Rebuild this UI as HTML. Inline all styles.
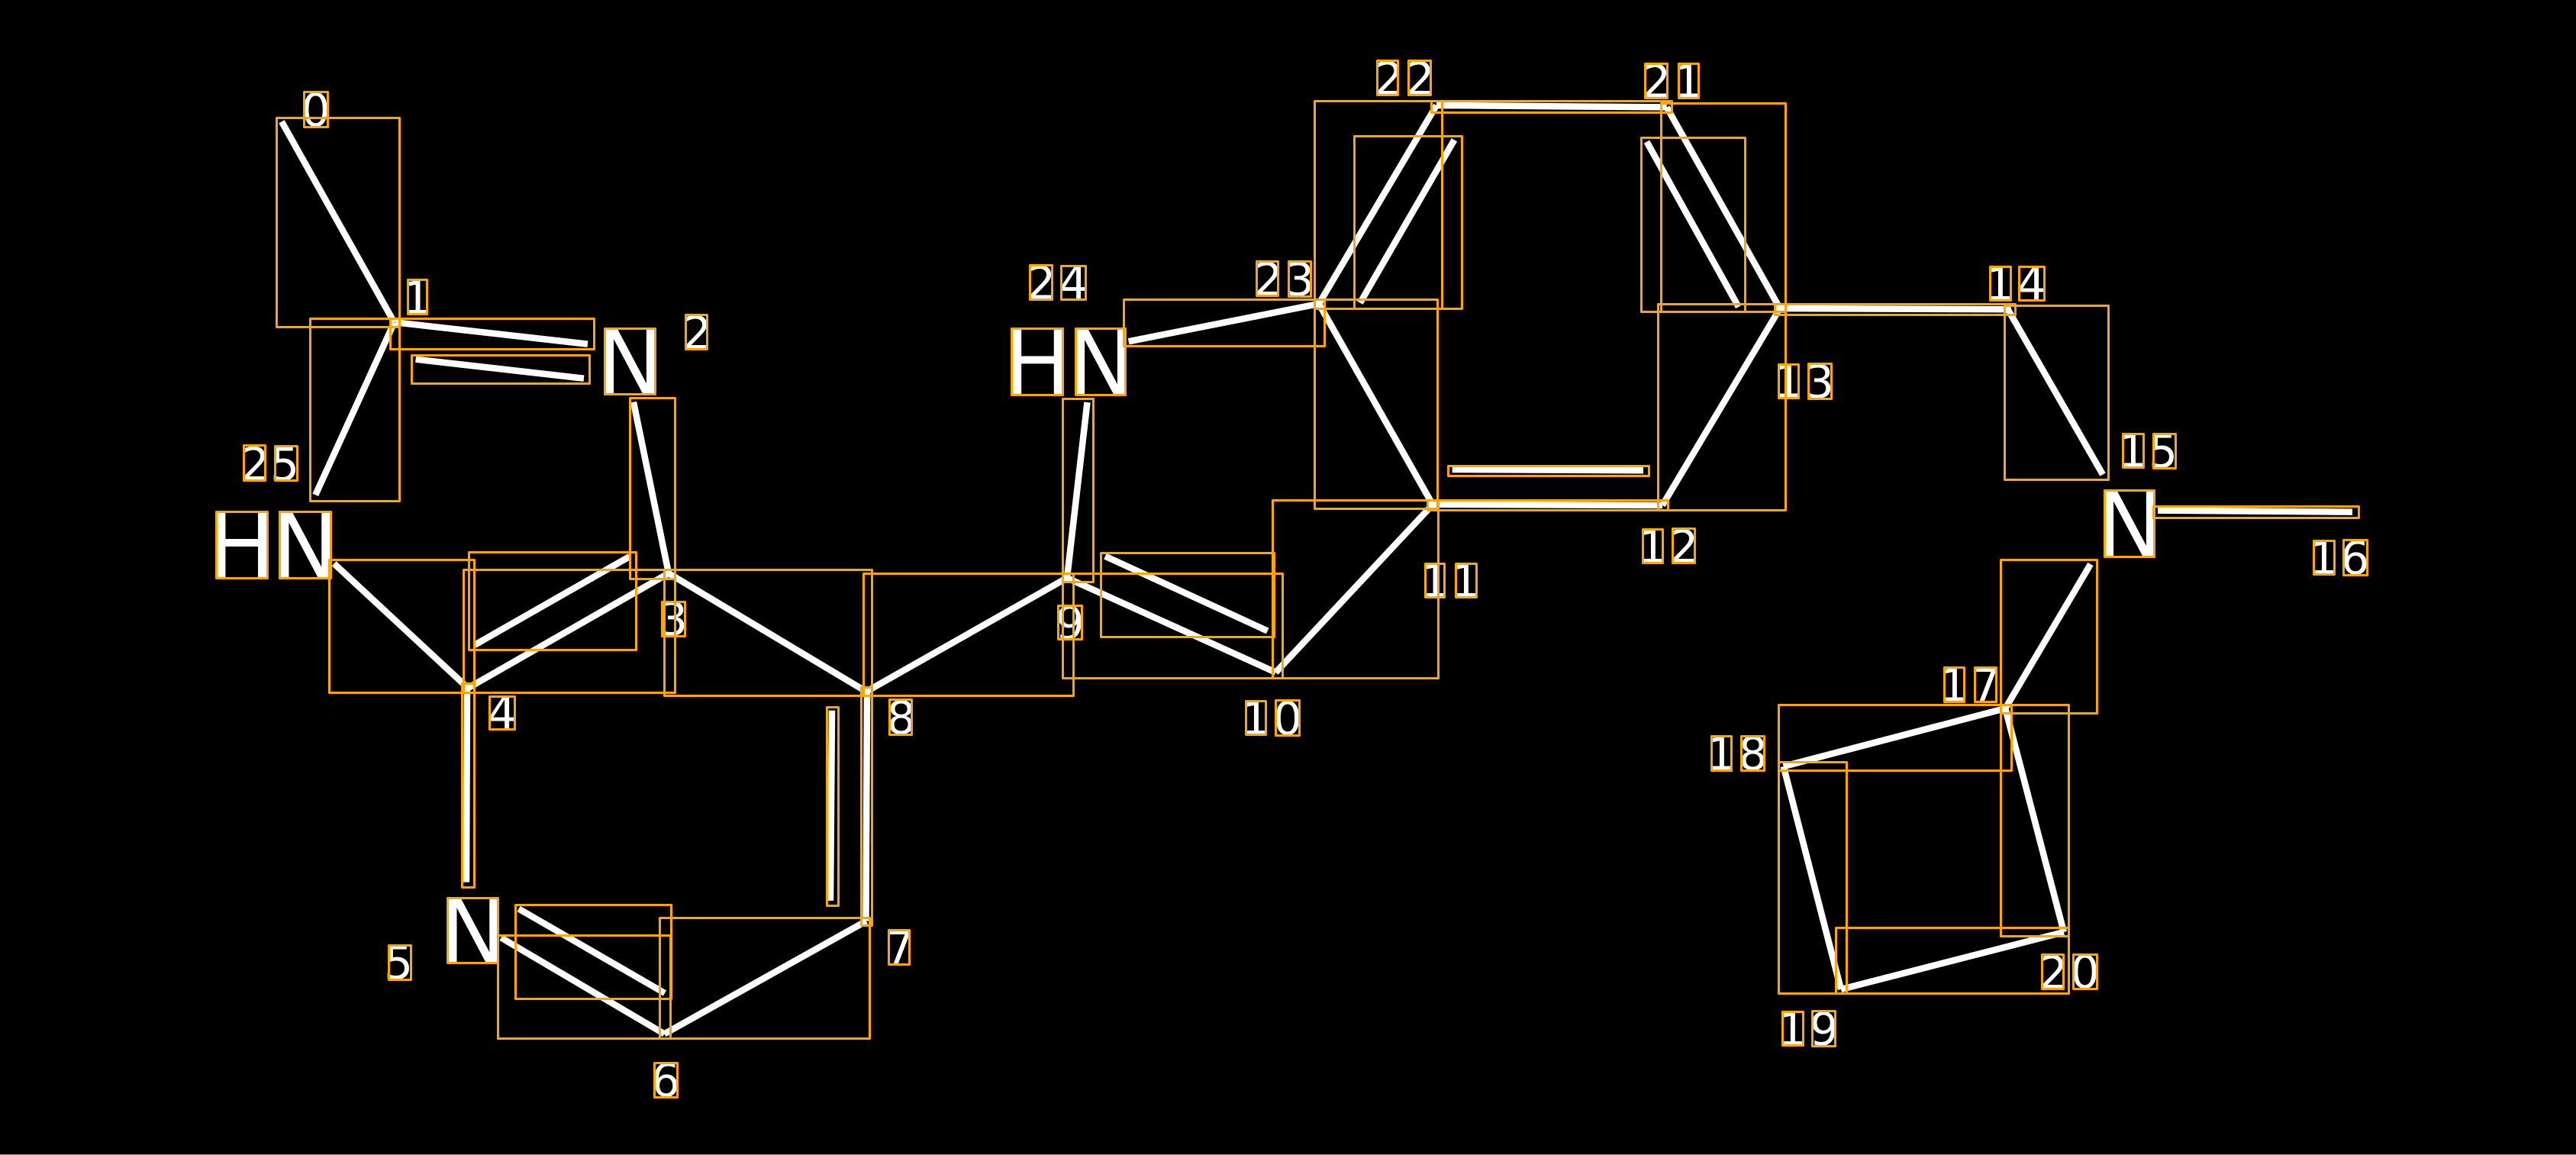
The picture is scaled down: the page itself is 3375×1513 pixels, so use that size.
<!DOCTYPE html>
<html>
<head>
<meta charset="utf-8">
<style>
html,body{margin:0;padding:0;background:#000;width:3375px;height:1513px;overflow:hidden}
svg{display:block}
text{font-family:"DejaVu Sans","Liberation Sans",sans-serif;fill:#fff}
.d{font-size:60px}
.a{font-size:119px}
</style>
</head>
<body>
<svg width="3375" height="1513" viewBox="0 0 3375 1513" xmlns="http://www.w3.org/2000/svg">
<rect width="3375" height="1513" fill="#000"/>
<rect x="0" y="1512" width="3375" height="1" fill="#999"/>
<g stroke="#fff" stroke-width="8.5" fill="none">
<line x1="369" y1="159.3" x2="516.5" y2="422.3"/>
<line x1="518" y1="422.3" x2="770" y2="450.7"/>
<line x1="544.6" y1="470.7" x2="765" y2="495.7"/>
<line x1="516.5" y1="422.3" x2="413.3" y2="648.3"/>
<line x1="830" y1="526.7" x2="876" y2="751"/>
<line x1="437.7" y1="738.3" x2="611.7" y2="900"/>
<line x1="876" y1="751" x2="612" y2="902"/>
<line x1="825" y1="729" x2="621.7" y2="845"/>
<line x1="876" y1="751" x2="1135" y2="906"/>
<line x1="1135" y1="906" x2="1398" y2="757"/>
<line x1="612" y1="900" x2="611" y2="1155.6"/>
<line x1="656.6" y1="1228.4" x2="870.4" y2="1354.4"/>
<line x1="679.6" y1="1190.5" x2="871" y2="1301"/>
<line x1="870.4" y1="1354.4" x2="1135" y2="1206.5"/>
<line x1="1136" y1="906" x2="1134.5" y2="1206.5"/>
<line x1="1090" y1="930.7" x2="1088" y2="1179.9"/>
<line x1="1398" y1="757" x2="1424.5" y2="527"/>
<line x1="1398" y1="757" x2="1671.4" y2="880.8"/>
<line x1="1448" y1="728.6" x2="1660.7" y2="826.5"/>
<line x1="1671.4" y1="880.8" x2="1877" y2="661"/>
<line x1="1877" y1="661" x2="1728" y2="398"/>
<line x1="1478.6" y1="447.3" x2="1727.7" y2="398"/>
<line x1="1728" y1="398" x2="1882" y2="138"/>
<line x1="1905.4" y1="183.3" x2="1782" y2="396.7"/>
<line x1="1882" y1="138" x2="2183.7" y2="140.4"/>
<line x1="2183.7" y1="140.4" x2="2332" y2="404"/>
<line x1="2157.5" y1="185.7" x2="2277.8" y2="402"/>
<line x1="2332" y1="404" x2="2178" y2="662"/>
<line x1="2178" y1="662" x2="1876.5" y2="660.8"/>
<line x1="1902.7" y1="615" x2="2153" y2="616.3"/>
<line x1="2332" y1="404" x2="2634.7" y2="405.3"/>
<line x1="2630.5" y1="405" x2="2755" y2="621.6"/>
<line x1="2827" y1="668.6" x2="3082" y2="670.6"/>
<line x1="2739" y1="739" x2="2627.3" y2="928"/>
<line x1="2627.3" y1="928" x2="2336.7" y2="1004"/>
<line x1="2336.7" y1="1004" x2="2412" y2="1296"/>
<line x1="2412" y1="1296" x2="2704" y2="1221"/>
<line x1="2704" y1="1221" x2="2627.3" y2="928"/>
</g>
<text class="a" x="781" y="516.5">N</text>
<text class="a" x="272" y="757">H</text>
<text class="a" x="355.4" y="757">N</text>
<text class="a" x="575.4" y="1261.5">N</text>
<text class="a" x="1314.8" y="517.5">H</text>
<text class="a" x="1398" y="517.5">N</text>
<text class="a" x="2746" y="729">N</text>
<g transform="translate(0.5,-1)">
<text class="d" x="394" y="166">0</text>
<text class="d" x="527" y="412">1</text>
<text class="d" x="893.6" y="458">2</text>
<text class="d" x="862.4" y="833">3</text>
<text class="d" x="638" y="956">4</text>
<text class="d" x="502.5" y="1283">5</text>
<text class="d" x="852.4" y="1437">6</text>
<text class="d" x="1159" y="1263.5">7</text>
<text class="d" x="1161" y="962">8</text>
<text class="d" x="1382.3" y="838">9</text>
<text class="d" x="1625.4" y="963">1</text>
<text class="d" x="1667.4" y="963">0</text>
<text class="d" x="1860" y="783">1</text>
<text class="d" x="1900.4" y="783">1</text>
<text class="d" x="2145.4" y="738">1</text>
<text class="d" x="2186.6" y="738">2</text>
<text class="d" x="2323.4" y="521.5">1</text>
<text class="d" x="2364.4" y="522">3</text>
<text class="d" x="2600.4" y="394">1</text>
<text class="d" x="2642" y="394">4</text>
<text class="d" x="2774.4" y="612.5">1</text>
<text class="d" x="2814.5" y="613">5</text>
<text class="d" x="3024.4" y="753">1</text>
<text class="d" x="3065.8" y="753">6</text>
<text class="d" x="2540.4" y="919.5">1</text>
<text class="d" x="2582" y="919.5">7</text>
<text class="d" x="2235.4" y="1009.5">1</text>
<text class="d" x="2277" y="1009">8</text>
<text class="d" x="2328.4" y="1370">1</text>
<text class="d" x="2370.3" y="1370">9</text>
<text class="d" x="2670.6" y="1296">2</text>
<text class="d" x="2712" y="1295">0</text>
<text class="d" x="2150.6" y="128.5">2</text>
<text class="d" x="2192.4" y="128.5">1</text>
<text class="d" x="1800" y="125">2</text>
<text class="d" x="1841" y="125">2</text>
<text class="d" x="1642" y="388">2</text>
<text class="d" x="1683.4" y="388">3</text>
<text class="d" x="1344.6" y="392.5">2</text>
<text class="d" x="1387" y="392.5">4</text>
<text class="d" x="314.6" y="630">2</text>
<text class="d" x="353.5" y="630">5</text>
</g>
<g stroke="#FFA500" stroke-width="3" stroke-linejoin="round" fill="none" transform="translate(0.5,0.5)">
<rect x="362" y="154" width="161" height="274"/>
<rect x="511" y="417" width="267" height="40"/>
<rect x="539" y="465" width="233" height="37"/>
<rect x="406" y="417" width="117" height="239"/>
<rect x="825" y="521" width="59" height="237"/>
<rect x="431" y="733" width="190" height="174"/>
<rect x="607" y="746" width="277" height="161"/>
<rect x="614" y="723" width="219" height="128"/>
<rect x="870" y="746" width="272" height="165"/>
<rect x="1131" y="751" width="275" height="160"/>
<rect x="605" y="895" width="16" height="267"/>
<rect x="652" y="1225" width="226" height="135"/>
<rect x="675" y="1185" width="204" height="123"/>
<rect x="864" y="1202" width="275" height="158"/>
<rect x="1128" y="900" width="14" height="312"/>
<rect x="1083" y="926" width="15" height="260"/>
<rect x="1392" y="522" width="40" height="240"/>
<rect x="1392" y="751" width="288" height="137"/>
<rect x="1442" y="724" width="227" height="110"/>
<rect x="1667" y="655" width="217" height="233"/>
<rect x="1722" y="392" width="161" height="274"/>
<rect x="1472" y="392" width="263" height="61"/>
<rect x="1722" y="132" width="167" height="272"/>
<rect x="1774" y="178" width="141" height="226"/>
<rect x="1875" y="132" width="315" height="15"/>
<rect x="2176" y="135" width="163" height="273"/>
<rect x="2150" y="180" width="136" height="228"/>
<rect x="2172" y="398" width="167" height="270"/>
<rect x="1870" y="655" width="315" height="13"/>
<rect x="1897" y="610" width="263" height="13"/>
<rect x="2325" y="398" width="315" height="14"/>
<rect x="2626" y="400" width="136" height="228"/>
<rect x="2821" y="663" width="269" height="15"/>
<rect x="2621" y="733" width="126" height="201"/>
<rect x="2330" y="923" width="305" height="86"/>
<rect x="2621" y="923" width="89" height="303"/>
<rect x="2330" y="998" width="89" height="303"/>
<rect x="2405" y="1215" width="305" height="86"/>
<rect x="792" y="430" width="66" height="86"/>
<rect x="283" y="670" width="67" height="87"/>
<rect x="366" y="670" width="67" height="87"/>
<rect x="586" y="1176" width="66" height="85"/>
<rect x="1325" y="430" width="67" height="87"/>
<rect x="1409" y="430" width="65" height="87"/>
<rect x="2757" y="642" width="65" height="87"/>
<rect x="398" y="120" width="31" height="46"/>
<rect x="534" y="366" width="25" height="45"/>
<rect x="898" y="412" width="28" height="45"/>
<rect x="867" y="788" width="30" height="45"/>
<rect x="641" y="912" width="33" height="43"/>
<rect x="509" y="1238" width="29" height="45"/>
<rect x="857" y="1392" width="30" height="45"/>
<rect x="1164" y="1218" width="27" height="45"/>
<rect x="1165" y="916" width="29" height="46"/>
<rect x="1386" y="793" width="31" height="44"/>
<rect x="1632" y="918" width="26" height="44"/>
<rect x="1671" y="917" width="31" height="46"/>
<rect x="1867" y="738" width="25" height="44"/>
<rect x="1907" y="738" width="27" height="44"/>
<rect x="2152" y="693" width="26" height="44"/>
<rect x="2191" y="692" width="29" height="45"/>
<rect x="2330" y="477" width="26" height="44"/>
<rect x="2369" y="476" width="30" height="46"/>
<rect x="2607" y="349" width="27" height="44"/>
<rect x="2645" y="349" width="33" height="44"/>
<rect x="2781" y="568" width="27" height="44"/>
<rect x="2821" y="568" width="29" height="45"/>
<rect x="3031" y="708" width="27" height="44"/>
<rect x="3070" y="707" width="31" height="46"/>
<rect x="2547" y="874" width="26" height="45"/>
<rect x="2587" y="874" width="28" height="45"/>
<rect x="2242" y="964" width="26" height="45"/>
<rect x="2281" y="964" width="30" height="45"/>
<rect x="2335" y="1325" width="27" height="44"/>
<rect x="2374" y="1324" width="30" height="46"/>
<rect x="2675" y="1250" width="28" height="45"/>
<rect x="2716" y="1250" width="31" height="45"/>
<rect x="2155" y="83" width="29" height="45"/>
<rect x="2199" y="83" width="26" height="45"/>
<rect x="1804" y="79" width="27" height="45"/>
<rect x="1845" y="79" width="29" height="45"/>
<rect x="1646" y="342" width="28" height="45"/>
<rect x="1688" y="342" width="29" height="46"/>
<rect x="1349" y="347" width="29" height="45"/>
<rect x="1390" y="348" width="32" height="44"/>
<rect x="319" y="583" width="28" height="46"/>
<rect x="360" y="584" width="29" height="45"/>
</g>
</svg>
</body>
</html>
